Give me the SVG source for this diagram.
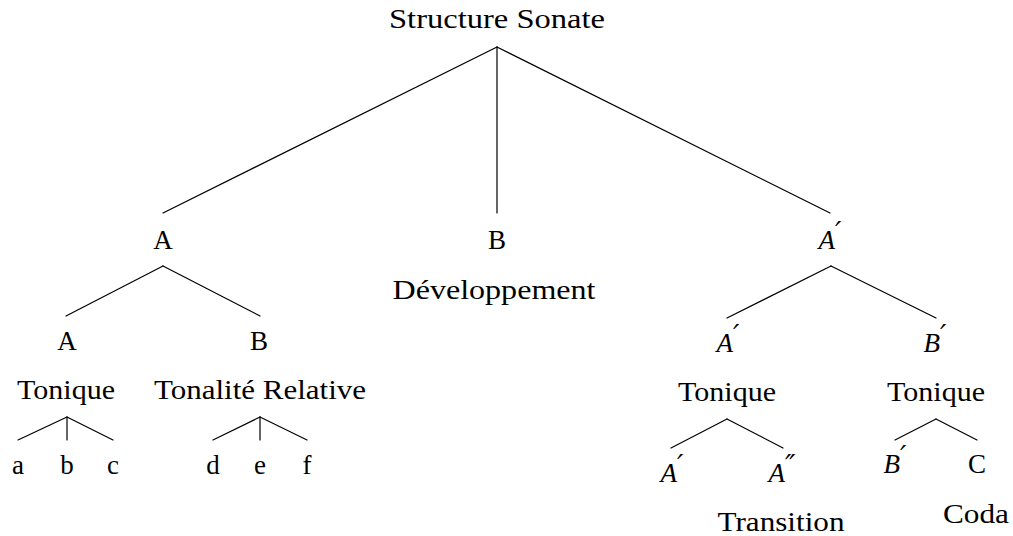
<svg xmlns="http://www.w3.org/2000/svg" width="1013" height="536" viewBox="0 0 1013 536">
  <style>
    text { font-family: "Liberation Serif", "Times New Roman", serif; font-size: 27px; fill: #000; text-anchor: middle; }
    .it { font-style: italic; }
    .pr { font-family: "DejaVu Serif", serif; font-style: italic; font-size: 28px; }
    .edges line { stroke: #000; stroke-width: 1.2; stroke-linecap: round; }
  </style>
  <rect width="1013" height="536" fill="#fff"/>

  <!-- connectors -->
  <g class="edges" id="edges">
    <line x1="497" y1="47" x2="163" y2="213"/>
    <line x1="497" y1="47" x2="497" y2="213"/>
    <line x1="497" y1="47" x2="830" y2="213"/>

    <line x1="163" y1="266" x2="66" y2="316"/>
    <line x1="163" y1="266" x2="260" y2="316"/>
    <line x1="831" y1="266" x2="727" y2="318"/>
    <line x1="831" y1="266" x2="936" y2="318"/>

    <line x1="67" y1="417" x2="18" y2="440"/>
    <line x1="67" y1="417" x2="67" y2="440"/>
    <line x1="67" y1="417" x2="113" y2="440"/>
    <line x1="260" y1="417" x2="213" y2="440"/>
    <line x1="260" y1="417" x2="260" y2="440"/>
    <line x1="260" y1="417" x2="307" y2="440"/>

    <line x1="727" y1="419" x2="671" y2="448"/>
    <line x1="727" y1="419" x2="783" y2="448"/>
    <line x1="936" y1="419" x2="895" y2="440"/>
    <line x1="936" y1="419" x2="977" y2="440"/>
  </g>

  <!-- root -->
  <g id="root"><text x="497" y="28" textLength="216" lengthAdjust="spacingAndGlyphs">Structure Sonate</text></g>

  <!-- exposition -->
  <g id="expo"><text x="163" y="249">A</text></g>
  <g id="expo-a"><text x="67" y="350">A</text><text x="66" y="399" textLength="98" lengthAdjust="spacingAndGlyphs">Tonique</text></g>
  <g id="expo-a-1"><text x="18" y="474">a</text></g>
  <g id="expo-a-2"><text x="67" y="474">b</text></g>
  <g id="expo-a-3"><text x="113" y="474">c</text></g>
  <g id="expo-b"><text x="259" y="350">B</text><text x="260" y="399" textLength="212" lengthAdjust="spacingAndGlyphs">Tonalité Relative</text></g>
  <g id="expo-b-1"><text x="213" y="474">d</text></g>
  <g id="expo-b-2"><text x="260" y="474">e</text></g>
  <g id="expo-b-3"><text x="307" y="474">f</text></g>

  <!-- development -->
  <g id="dev"><text x="497" y="249">B</text><text x="494" y="299" textLength="203" lengthAdjust="spacingAndGlyphs">Développement</text></g>

  <!-- recapitulation -->
  <g id="recap"><text x="830" y="249"><tspan class="it">A</tspan><tspan class="pr" dy="-7">′</tspan></text></g>
  <g id="recap-a"><text x="728" y="352"><tspan class="it">A</tspan><tspan class="pr" dy="-7">′</tspan></text><text x="727" y="401" textLength="98" lengthAdjust="spacingAndGlyphs">Tonique</text></g>
  <g id="recap-a-1"><text x="672" y="482"><tspan class="it">A</tspan><tspan class="pr" dy="-7">′</tspan></text></g>
  <g id="recap-a-2"><text x="782" y="482"><tspan class="it">A</tspan><tspan class="pr" dy="-7">″</tspan></text><text x="781" y="531" textLength="127" lengthAdjust="spacingAndGlyphs">Transition</text></g>
  <g id="recap-b"><text x="935" y="352"><tspan class="it">B</tspan><tspan class="pr" dy="-7">′</tspan></text><text x="936" y="401" textLength="98" lengthAdjust="spacingAndGlyphs">Tonique</text></g>
  <g id="recap-b-1"><text x="895" y="473"><tspan class="it">B</tspan><tspan class="pr" dy="-7">′</tspan></text></g>
  <g id="recap-b-2"><text x="977" y="473">C</text><text x="976" y="523" textLength="66" lengthAdjust="spacingAndGlyphs">Coda</text></g>
</svg>
